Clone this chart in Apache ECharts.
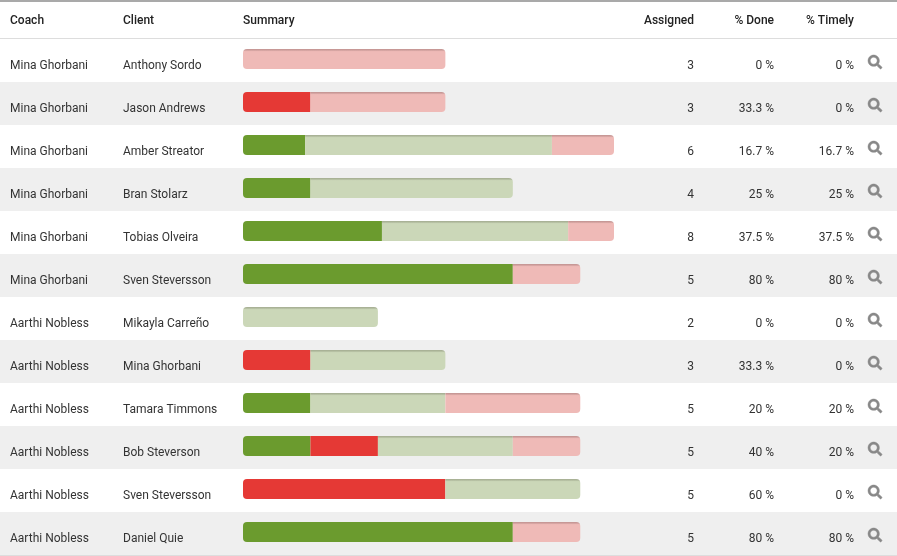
<!DOCTYPE html>
<html>
<head>
<meta charset="utf-8">
<style>
html, body { margin: 0; padding: 0; background: #fff; }
#container { width: 897px; height: 556px; }
</style>
<script src="https://cdn.jsdelivr.net/npm/echarts@6/dist/echarts.min.js"></script>
</head>
<body>
<div id="container"></div>
<script>
var coaches = ['Mina Ghorbani', 'Mina Ghorbani', 'Mina Ghorbani', 'Mina Ghorbani', 'Mina Ghorbani', 'Mina Ghorbani',
    'Aarthi Nobless', 'Aarthi Nobless', 'Aarthi Nobless', 'Aarthi Nobless', 'Aarthi Nobless', 'Aarthi Nobless'];
var clients = ['Anthony Sordo', 'Jason Andrews', 'Amber Streator', 'Bran Stolarz', 'Tobias Olveira', 'Sven Steversson',
    'Mikayla Carreño', 'Mina Ghorbani', 'Tamara Timmons', 'Bob Steverson', 'Sven Steversson', 'Daniel Quie'];
var assigned = ['3', '3', '6', '4', '8', '5', '2', '3', '5', '5', '5', '5'];
var pctDone = ['0 %', '33.3 %', '16.7 %', '25 %', '37.5 %', '80 %', '0 %', '33.3 %', '20 %', '40 %', '60 %', '80 %'];
var pctTimely = ['0 %', '0 %', '16.7 %', '25 %', '37.5 %', '80 %', '0 %', '0 %', '20 %', '20 %', '0 %', '80 %'];

// bar segment lengths, one bar is capped at 5.5
var onTime = [0, 0, 0.92, 1, 2.06, 4, 0, 0, 1, 1, 0, 4];
var late = [0, 1, 0, 0, 0, 0, 0, 1, 0, 1, 3, 0];
var open = [0, 0, 3.66, 3, 2.76, 0, 2, 2, 2, 2, 2, 0];
var overdue = [3, 2, 0.92, 0, 0.68, 1, 0, 0, 2, 1, 0, 1];

var rows = coaches.map(function (c, i) { return i; });
var stacks = [onTime, late, open, overdue];

var dom = document.getElementById('container');
var myChart = echarts.init(dom);

var radius = function (idx, row) {
    var first = stacks.findIndex(function (s) { return s[row] > 0; });
    var last = 3 - stacks.slice().reverse().findIndex(function (s) { return s[row] > 0; });
    return [idx === first ? 4 : 0, idx === last ? 4 : 0, idx === last ? 4 : 0, idx === first ? 4 : 0];
};

var barSeries = function (name, idx, color, edge) {
    return {
        name: name,
        type: 'bar',
        stack: 'summary',
        xAxisIndex: 1,
        yAxisIndex: 1,
        barWidth: 20,
        z: 3,
        data: stacks[idx].map(function (v, row) {
            return {
                value: v,
                itemStyle: {
                    borderRadius: radius(idx, row),
                    color: new echarts.graphic.LinearGradient(0, 0, 0, 1, [
                        { offset: 0, color: edge },
                        { offset: 0.04, color: edge },
                        { offset: 0.13, color: color },
                        { offset: 1, color: color }
                    ])
                }
            };
        })
    };
};

// text column drawn through the full width grid
var textColumn = function (values, x, align) {
    return {
        type: 'custom',
        xAxisIndex: 0,
        yAxisIndex: 0,
        z: 4,
        silent: true,
        data: values.map(function (v, i) { return [x, i]; }),
        renderItem: function (params, api) {
            var p = api.coord([api.value(0), api.value(1)]);
            return {
                type: 'text',
                x: p[0],
                y: p[1] + 5,
                style: {
                    text: values[params.dataIndex],
                    textAlign: align,
                    textVerticalAlign: 'middle',
                    font: '12px Roboto',
                    fill: '#333'
                }
            };
        }
    };
};

var headerText = function (text, x, align) {
    return {
        type: 'text',
        x: x,
        y: 21,
        style: {
            text: text,
            textAlign: align,
            textVerticalAlign: 'middle',
            font: '500 12px Roboto',
            fill: '#222'
        }
    };
};

var searchIcon = 'path://M505 442.7L405.3 343c-4.5-4.5-10.6-7-17-7H372c27.6-35.3 44-79.7 44-128C416 93.1 322.9 0 208 0S0 93.1 0 208s93.1 208 208 208c48.3 0 92.7-16.4 128-44v16.3c0 6.4 2.5 12.5 7 17l99.7 99.7c9.4 9.4 24.6 9.4 33.9 0l28.3-28.3c9.4-9.4 9.4-24.6.1-34zM208 336c-70.7 0-128-57.2-128-128 0-70.7 57.2-128 128-128 70.7 0 128 57.2 128 128 0 70.7-57.2 128-128 128z';

var option = {
    animation: false,
    backgroundColor: '#fff',
    grid: [
        { left: 0, top: 39, width: 897, height: 516 },
        { left: 243, top: 37.5, width: 371, height: 516 }
    ],
    xAxis: [
        { type: 'value', gridIndex: 0, min: 0, max: 897, show: false },
        { type: 'value', gridIndex: 1, min: 0, max: 5.5, show: false }
    ],
    yAxis: [
        {
            type: 'category', gridIndex: 0, data: rows, inverse: true,
            axisLine: { show: false }, axisTick: { show: false }, axisLabel: { show: false },
            splitLine: { show: false },
            splitArea: { show: true, areaStyle: { color: ['#ffffff', '#efefef'] } }
        },
        { type: 'category', gridIndex: 1, data: rows, inverse: true, show: false }
    ],
    graphic: [
        { type: 'rect', shape: { x: 0, y: 0, width: 897, height: 2 }, style: { fill: '#a9a9a9' } },
        { type: 'rect', shape: { x: 0, y: 38, width: 897, height: 1 }, style: { fill: '#dddddd' } },
        { type: 'rect', shape: { x: 0, y: 555, width: 897, height: 1 }, style: { fill: '#dddddd' } },
        headerText('Coach', 10, 'left'),
        headerText('Client', 123, 'left'),
        headerText('Summary', 243, 'left'),
        headerText('Assigned', 694, 'right'),
        headerText('% Done', 774, 'right'),
        headerText('% Timely', 854, 'right')
    ],
    series: [
        barSeries('On time', 0, '#6b9b2e', '#6b9b2e'),
        barSeries('Late', 1, '#e53935', '#e53935'),
        barSeries('Open', 2, '#cbd7b8', '#a9b296'),
        barSeries('Overdue', 3, '#efbab7', '#c79896'),
        textColumn(coaches, 10, 'left'),
        textColumn(clients, 123, 'left'),
        textColumn(assigned, 694, 'right'),
        textColumn(pctDone, 774, 'right'),
        textColumn(pctTimely, 854, 'right'),
        {
            type: 'scatter',
            xAxisIndex: 0,
            yAxisIndex: 0,
            symbol: searchIcon,
            symbolSize: 14,
            symbolOffset: [0, 1.5],
            itemStyle: { color: '#888888', opacity: 1, borderColor: '#888888', borderWidth: 0.5 },
            z: 4,
            data: rows.map(function (r) { return [875, r]; })
        }
    ]
};
myChart.setOption(option, true);
</script>
</body>
</html>
